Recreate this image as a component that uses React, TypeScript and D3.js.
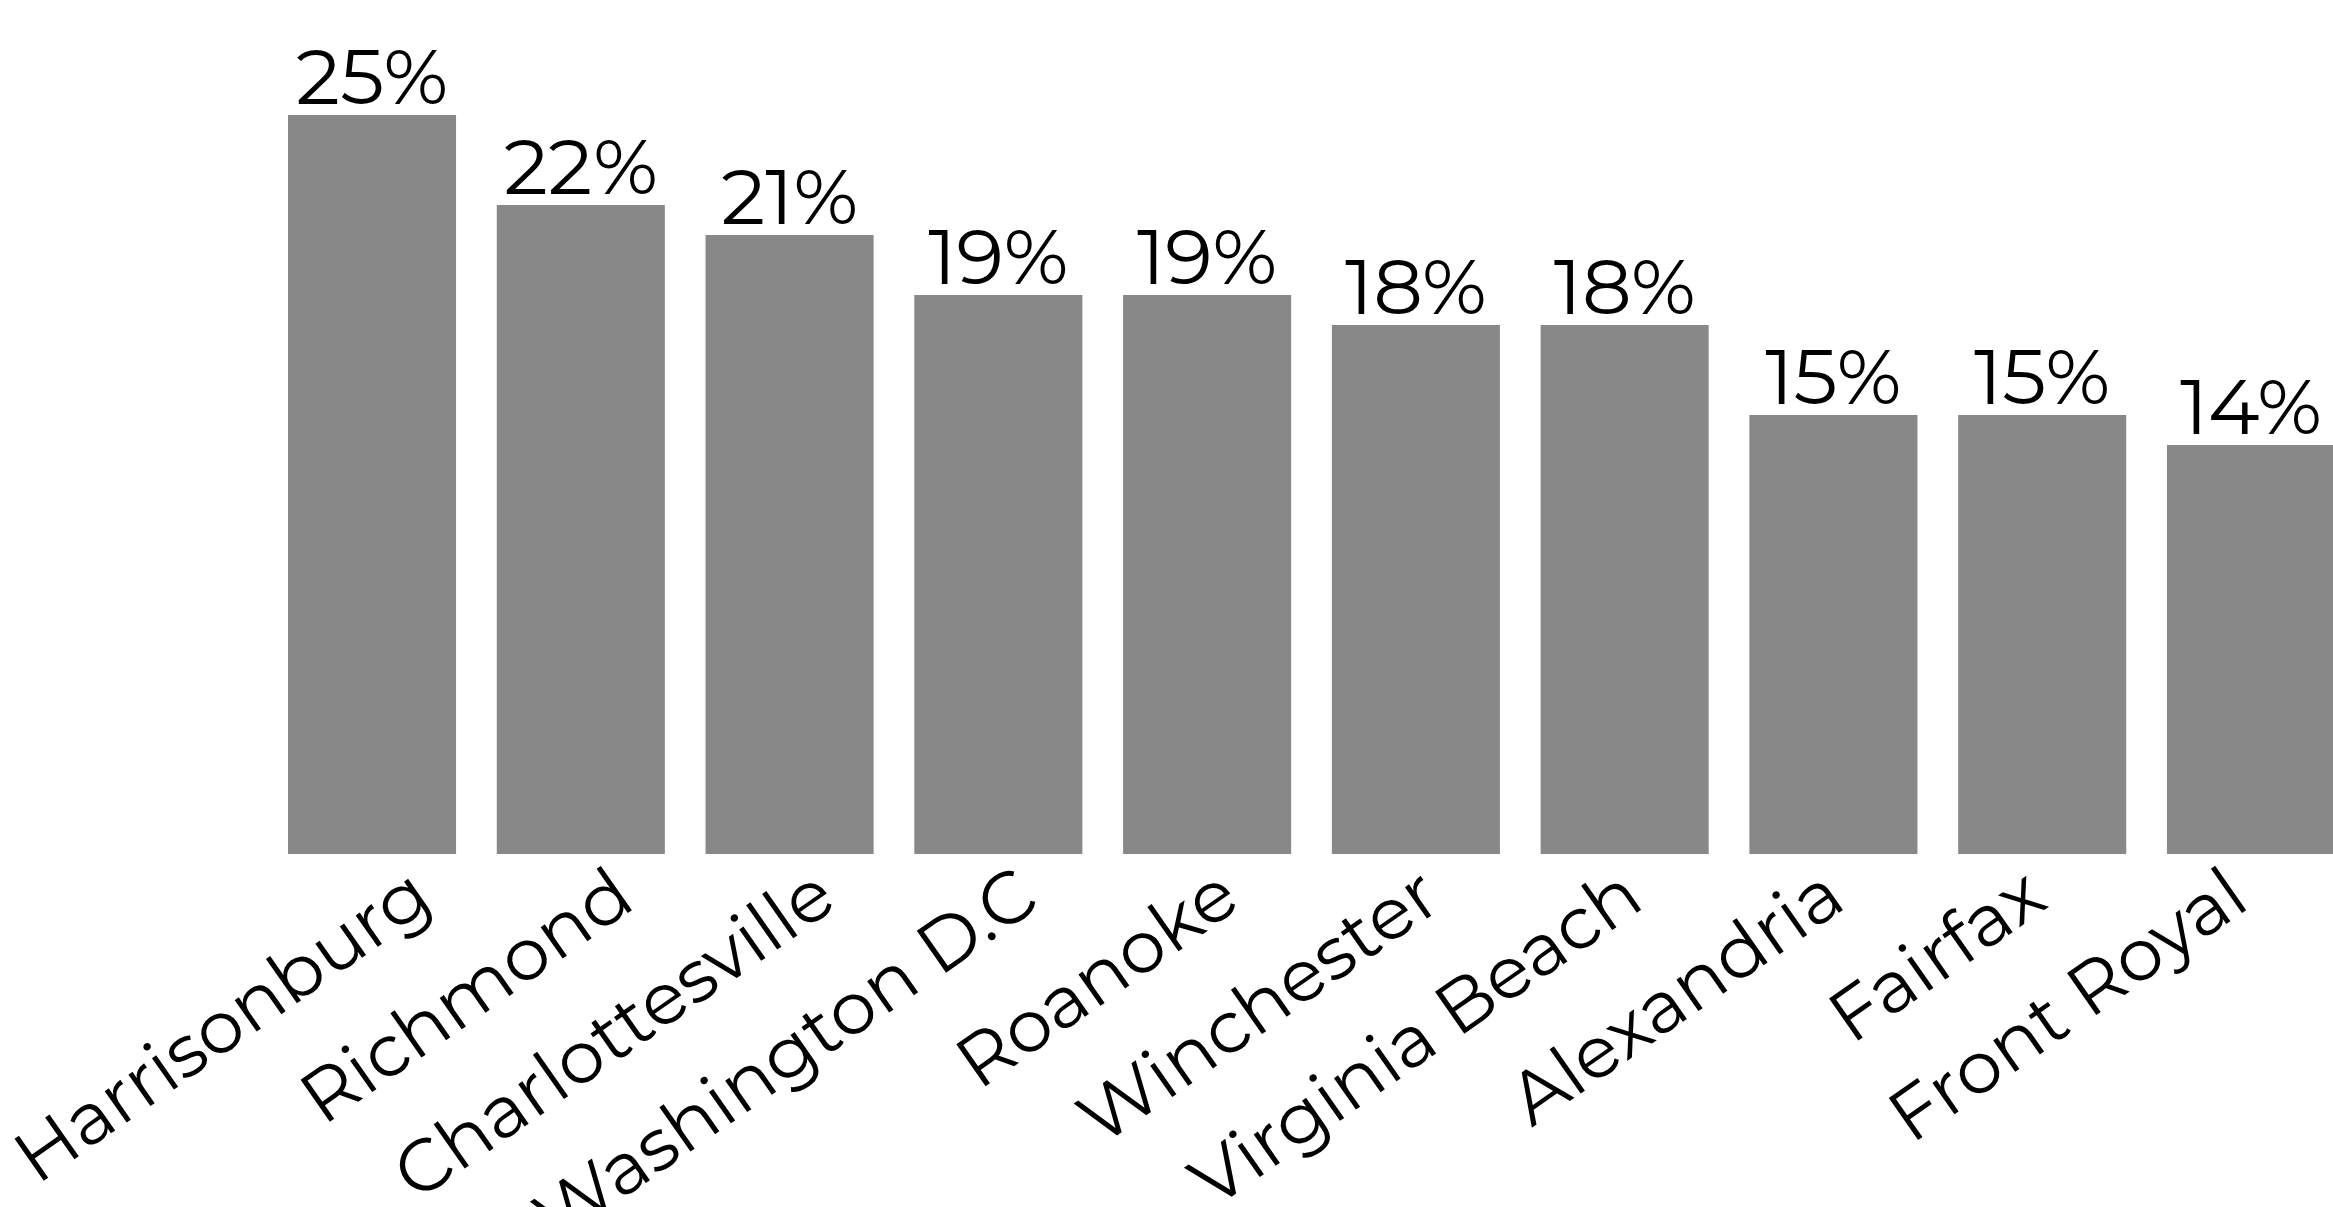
import { useEffect } from 'react'
import * as d3 from 'd3'

const cities = [
	'Harrisonburg',
	'Richmond',
	'Charlottesville',
	'Washington D.C',
	'Roanoke',
	'Winchester',
	'Virginia Beach',
	'Alexandria',
	'Fairfax',
	'Front Royal',
]
const shares = [25, 22, 21, 19, 19, 18, 18, 15, 15, 14]
const shareLabels = ['25%', '22%', '21%', '19%', '19%', '18%', '18%', '15%', '15%', '14%']

const W = 2333
const H = 1207
const baseY = 854
const fontFamily = "Montserrat, 'Open Sans', sans-serif"

export default function App() {
	useEffect(() => {
		document.body.style.margin = '0'
		document.body.style.overflow = 'hidden'
	}, [])

	const x = d3
		.scaleBand<string>()
		.domain(cities)
		.range([288, 2335])
		.paddingInner(0.195)
		.paddingOuter(0)

	// zero sits a little under the drawn baseline in the original
	const y = d3.scaleLinear().domain([0, 25]).range([865, 115])

	// the rotated city names are spaced a bit tighter than the bars
	const labelX = d3.scalePoint<string>().domain(cities).range([436, 2252])

	return (
		<svg width={W} height={H} style={{ display: 'block', background: '#fff' }}>
			<g>
				{cities.map((c, i) => (
					<rect
						key={c}
						x={x(c)}
						y={y(shares[i])}
						width={x.bandwidth()}
						height={baseY - y(shares[i])}
						fill="#888888"
					/>
				))}
			</g>
			<g fontFamily={fontFamily} fontWeight={400} fill="#000">
				{cities.map((c, i) => (
					<text
						key={c}
						x={(x(c) as number) + x.bandwidth() / 2}
						y={y(shares[i]) - 11}
						textAnchor="middle"
						fontSize={78}
					>
						{shareLabels[i]}
					</text>
				))}
			</g>
			<g fontFamily={fontFamily} fontWeight={400} fill="#000">
				{cities.map((c) => (
					<text
						key={c}
						transform={`translate(${labelX(c)},${baseY + 52}) rotate(-35)`}
						textAnchor="end"
						fontSize={73}
					>
						{c}
					</text>
				))}
			</g>
		</svg>
	)
}
